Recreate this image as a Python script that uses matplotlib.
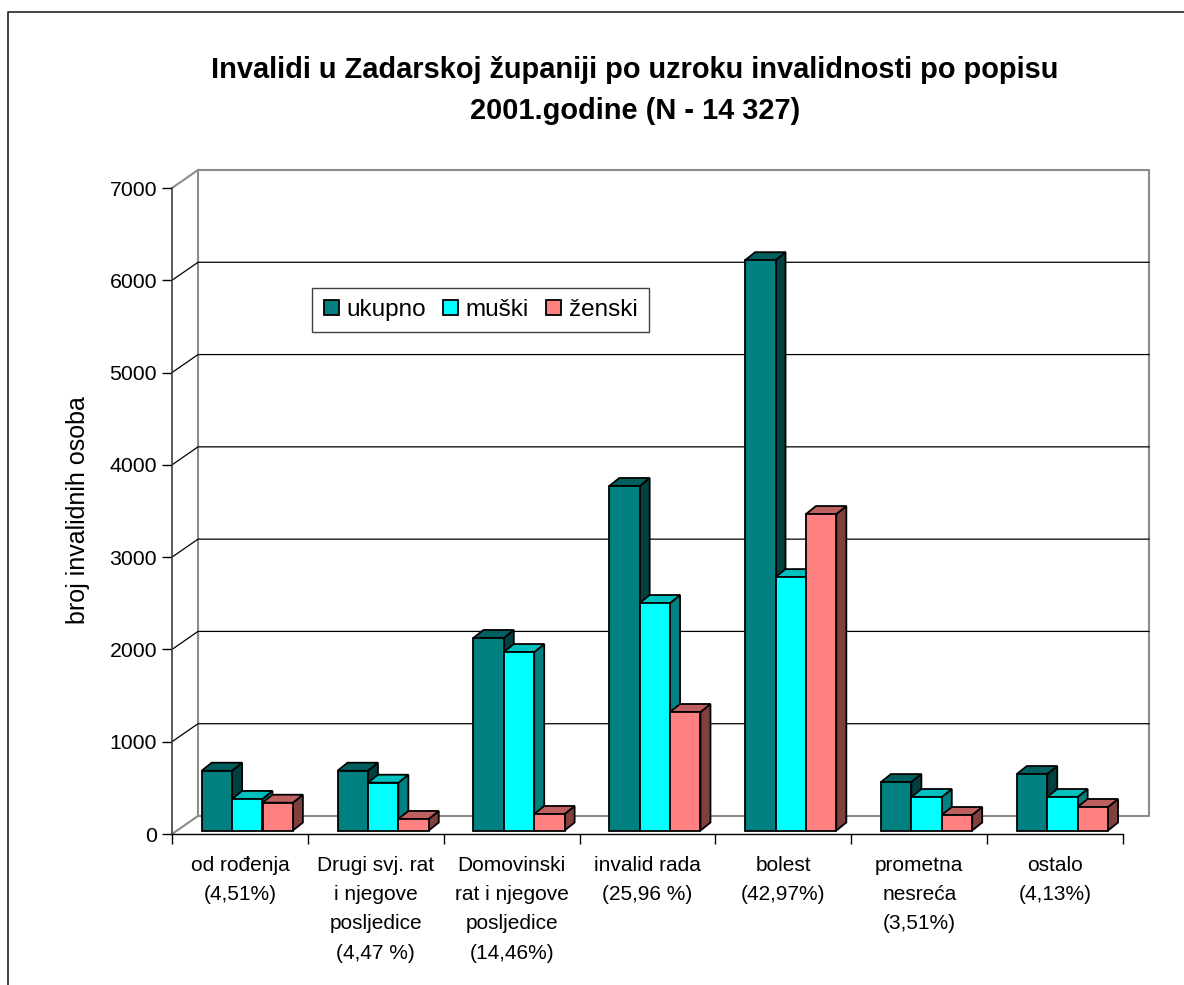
import matplotlib
matplotlib.use('Agg')
import matplotlib.pyplot as plt
from matplotlib.patches import Polygon

plt.rcParams['font.family'] = ['Liberation Sans', 'DejaVu Sans']

categories = ['od rođenja\n(4,51%)', 'Drugi svj. rat\ni njegove\nposljedice\n(4,47 %)',
              'Domovinski\nrat i njegove\nposljedice\n(14,46%)', 'invalid rada\n(25,96 %)',
              'bolest\n(42,97%)', 'prometna\nnesreća\n(3,51%)', 'ostalo\n(4,13%)']
ukupno = [648, 648, 2086, 3733, 6180, 525, 612]
muski = [342, 518, 1934, 2465, 2746, 363, 363]
zenski = [301, 125, 179, 1284, 3429, 168, 255]
yticks = [0, 1000, 2000, 3000, 4000, 5000, 6000, 7000]

W, H = 1184, 985
fig = plt.figure(figsize=(W/100, H/100), dpi=100)

# front plane of the 3d box, in pixels
X0, X1, Y0, Y1 = 172, 1123, 834, 188
ax = fig.add_axes([X0/W, 1-Y0/H, (X1-X0)/W, (Y0-Y1)/H])
ax.set_xlim(0, 7)
ax.set_ylim(0, 7000)
ax.patch.set_visible(False)
for s in ['top', 'right']:
    ax.spines[s].set_visible(False)
ax.spines['left'].set_color('#404040')
ax.spines['left'].set_linewidth(1.2)
ax.spines['bottom'].set_linewidth(1.0)

ux = 7/(X1-X0)
uy = 7000/(Y0-Y1)
wall_dx, wall_dy = 26*ux, 18*uy
bar_dx, bar_dy = 10*ux, 8*uy
base = 3.5*uy
bar_w = 30.4*ux
first = 29.7*ux

# walls
ax.plot([0, wall_dx, wall_dx, 7+wall_dx, 7+wall_dx, wall_dx], [0, wall_dy, 7000+wall_dy, 7000+wall_dy, wall_dy, wall_dy],
        color='#8c8c8c', lw=1.5, clip_on=False, zorder=1)
ax.plot([0, wall_dx], [7000, 7000+wall_dy], color='#8c8c8c', lw=1.5, clip_on=False, zorder=1)
for t in yticks[1:-1]:
    ax.plot([0, wall_dx, 7+wall_dx], [t, t+wall_dy, t+wall_dy], color='black', lw=0.9, clip_on=False, zorder=1.5)


def shade(c, f):
    return tuple(v*f for v in matplotlib.colors.to_rgb(c))


series = [(ukupno, '#008080', 'ukupno'), (muski, '#00ffff', 'muški'), (zenski, '#ff8080', 'ženski')]
for s, (vals, col, name) in enumerate(series):
    for i, v in enumerate(vals):
        x = i + first + s*bar_w
        top = v + base
        ax.add_patch(Polygon([[x+bar_w, base], [x+bar_w+bar_dx, base+bar_dy], [x+bar_w+bar_dx, top+bar_dy], [x+bar_w, top]],
                             fc=shade(col, 0.5), ec='black', lw=1.3, zorder=3+s+i*3, clip_on=False))
        ax.add_patch(Polygon([[x, top], [x+bar_dx, top+bar_dy], [x+bar_w+bar_dx, top+bar_dy], [x+bar_w, top]],
                             fc=shade(col, 0.75), ec='black', lw=1.3, zorder=3+s+i*3, clip_on=False))
        ax.bar(x, v, bottom=base, width=bar_w, align='edge', color=col, edgecolor='black', lw=1.3, zorder=3+s+i*3)

ax.set_yticks(yticks)
ax.set_yticklabels([str(t) for t in yticks], fontsize=15.3)
ax.set_xticks(range(8))
ax.set_xticklabels([])
ax.tick_params(axis='y', length=7.2, width=1, pad=3.6, colors='black')
ax.tick_params(axis='x', length=7.2, width=1)
for i, c in enumerate(categories):
    ax.text(i+0.5, 7000-(856-Y1)*uy, c, ha='center', va='top', fontsize=15, linespacing=1.68)

fig.text(78/W, 1-510/H, 'broj invalidnih osoba', rotation=90, ha='center', va='center', fontsize=18)
fig.text(635/W, 1-90.5/H, 'Invalidi u Zadarskoj županiji po uzroku invalidnosti po popisu\n2001.godine (N - 14 327)',
         ha='center', va='center', fontsize=20.85, fontweight='bold', linespacing=1.61)

# legend box
handles = [plt.Rectangle((0, 0), 1, 1, fc=c, ec='black', lw=1.3) for _, c, _ in series]
leg = fig.legend(handles, [n for _, _, n in series], ncol=3, loc='center', bbox_to_anchor=(480.5/W, 1-310/H),
                 fontsize=17.5, frameon=True, fancybox=False, edgecolor='#404040', framealpha=1,
                 handlelength=0.62, handleheight=0.62, handletextpad=0.33, columnspacing=0.68, borderpad=0.47, borderaxespad=0)
leg.set_zorder(50)

# chart frame
fig.add_artist(plt.Line2D([8/W, 8/W, 1], [0, 1-12/H, 1-12/H], color='#222222', lw=1.2))

fig.savefig('out.png', dpi=100)
